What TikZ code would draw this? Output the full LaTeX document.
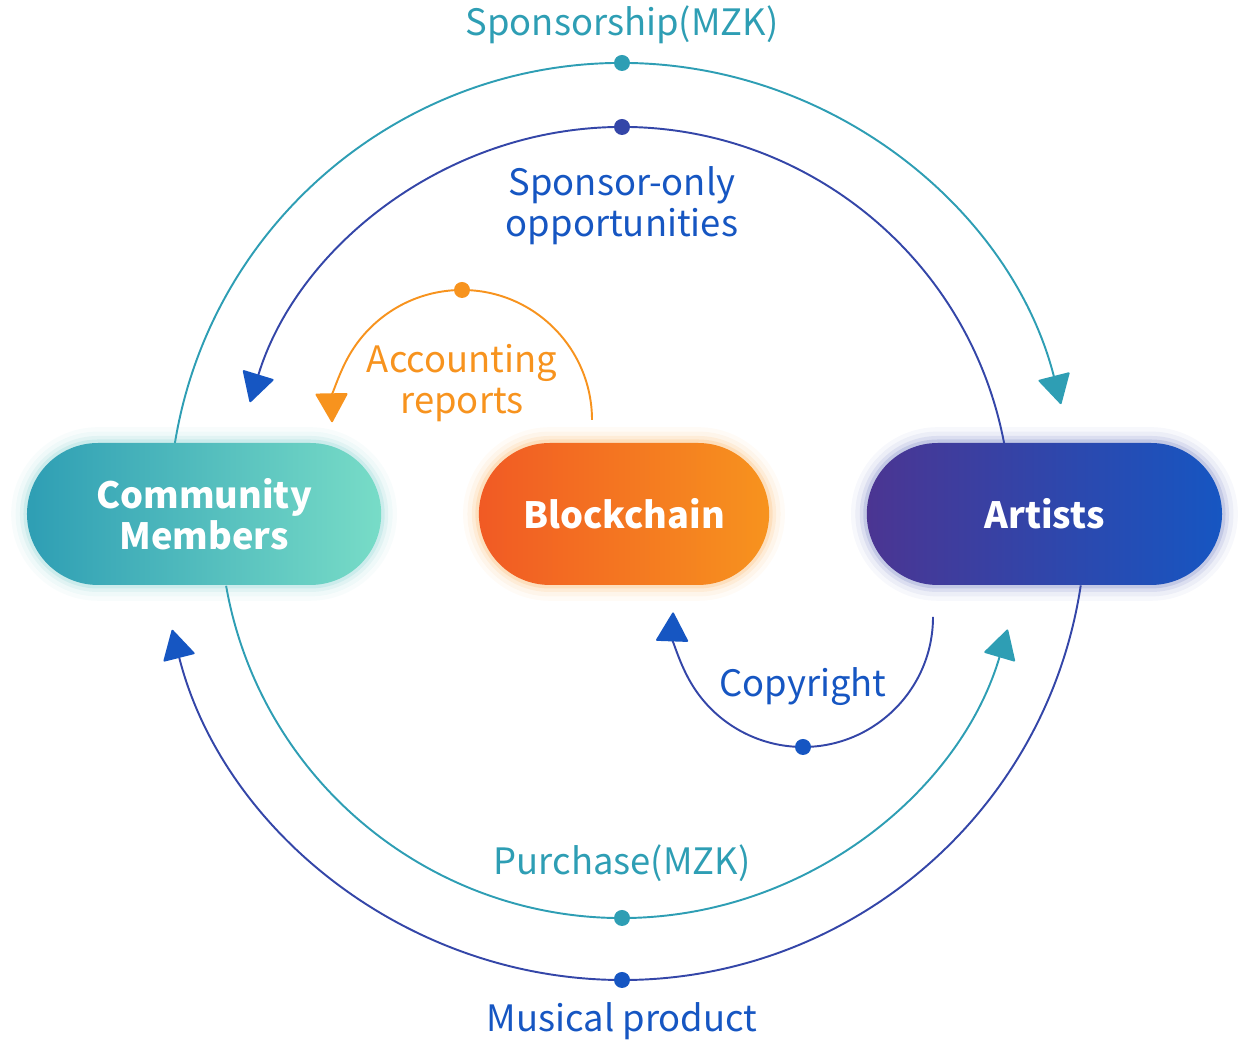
\documentclass[tikz,border=0pt]{standalone}
\usepackage{fontspec}
\setmainfont{Noto Sans CJK SC}
\usetikzlibrary{shapes.misc,arrows.meta,positioning,calc,backgrounds}
\definecolor{MzkTeal}{HTML}{2E9EB4}
\definecolor{MzkMint}{HTML}{78DCC7}
\definecolor{MzkBlue}{HTML}{1656C2}
\definecolor{MzkPurple}{HTML}{4B3592}
\definecolor{MzkIndigo}{HTML}{3446A8}
\definecolor{MzkRed}{HTML}{F15A24}
\definecolor{MzkOrange}{HTML}{F7931E}
\tikzset{
  pill/.style={rounded rectangle,minimum height=2.84cm,text=white,align=center,
               font=\fontsize{20.6}{23.5}\selectfont\bfseries},
  glow/.style={preaction={draw=#1,line width=18pt,opacity=0.04},
               preaction={draw=#1,line width=13pt,opacity=0.06},
               preaction={draw=#1,line width=8pt,opacity=0.09},
               preaction={draw=#1,line width=4pt,opacity=0.14}},
  lbl/.style={align=center,font=\fontsize{20.7}{23.3}\selectfont},
  dot/.style={circle,inner sep=0pt,minimum size=0.32cm,fill=#1},
  flow/.style 2 args={draw=#1,line width=1.1pt,
               -{Triangle[round,length=0.6cm,width=0.66cm,color=#2]}},
}

\begin{document}
\begin{tikzpicture}[x=0.02cm,y=0.02cm,node distance=1.94cm]
  \useasboundingbox (0,0) rectangle (1245,1043);
  \node[pill,glow=MzkOrange,minimum width=6.04cm,left color=MzkRed,right color=MzkOrange] (chain) at (624,529) {Blockchain};
  \node[pill,glow=MzkTeal!50!MzkMint,minimum width=7.32cm,left color=MzkTeal,right color=MzkMint,left=of chain] (members) {Community\\Members};
  \node[pill,glow=MzkIndigo,minimum width=7.34cm,left color=MzkPurple,right color=MzkBlue,right=of chain] (artists) {Artists};

  \coordinate (hub) at (622,527);
  \coordinate (sponsorStart) at ($(hub)+(171:453)$);
  \coordinate (onlyStart)    at ($(hub)+(10.7:389)$);
  \coordinate (buyStart)     at ($(hub)+(190:402)$);
  \coordinate (productStart) at ($(hub)+(-8.6:464)$);
  \coordinate (reportStart)  at (592,623);
  \coordinate (rightStart)   at (933,426);

  \begin{scope}[on background layer]
    \draw[flow={MzkTeal}{MzkTeal}]     (sponsorStart) arc[start angle=171,end angle=14.3,radius=453];
    \draw[flow={MzkIndigo}{MzkBlue}]   (onlyStart)    arc[start angle=10.7,end angle=163,radius=389];
    \draw[flow={MzkTeal}{MzkTeal}]     (buyStart)     arc[start angle=190,end angle=343.6,radius=402];
    \draw[flow={MzkIndigo}{MzkBlue}]   (productStart) arc[start angle=-8.6,end angle=-165.8,radius=464];
    \draw[flow={MzkOrange}{MzkOrange}] (reportStart)  arc[start angle=0,end angle=181,radius=130];
    \draw[flow={MzkIndigo}{MzkBlue}]   (rightStart)   arc[start angle=0,end angle=-182,radius=130];
  \end{scope}

  \node[dot=MzkTeal]   (sponsorDot) at (622,980) {};
  \node[dot=MzkIndigo] (onlyDot)    at (622,916) {};
  \node[dot=MzkTeal]   (buyDot)     at (622,125) {};
  \node[dot=MzkBlue]   (productDot) at (622,63)  {};
  \node[dot=MzkOrange] (reportDot)  at (462,753) {};
  \node[dot=MzkBlue]   (rightDot)   at (803,296) {};

  \node[lbl,text=MzkTeal]   (sponsorLbl) at (622,1018) {Sponsorship(MZK)};
  \node[lbl,text=MzkBlue]   (onlyLbl)    at (622,837)  {Sponsor-only\\opportunities};
  \node[lbl,text=MzkOrange] (reportLbl)  at (462,660)  {Accounting\\reports};
  \node[lbl,text=MzkBlue]   (rightLbl)   at (803,356)  {Copyright};
  \node[lbl,text=MzkTeal]   (buyLbl)     at (622,180)  {Purchase(MZK)};
  \node[lbl,text=MzkBlue]   (productLbl) at (622,22)   {Musical product};
\end{tikzpicture}
\end{document}
